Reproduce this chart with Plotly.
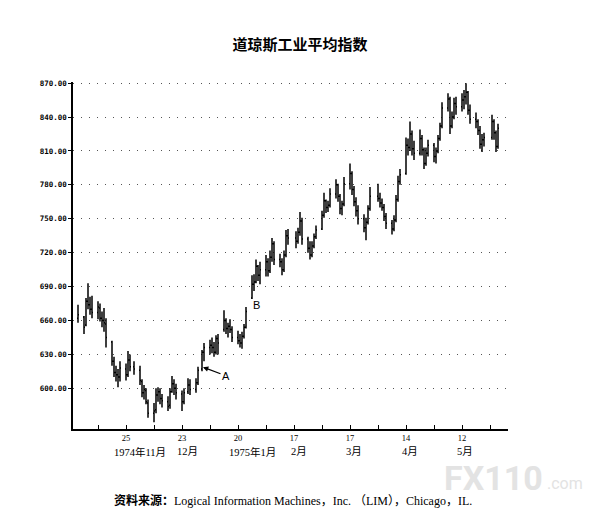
import plotly.graph_objects as go

# daily bars of the Dow Jones Industrial Average, Nov 1974 - May 1975
dates = [
    "1974-11-01", "1974-11-04", "1974-11-05", "1974-11-06", "1974-11-07", "1974-11-08",
    "1974-11-11", "1974-11-12", "1974-11-13", "1974-11-14", "1974-11-15",
    "1974-11-18", "1974-11-19", "1974-11-20", "1974-11-21", "1974-11-22",
    "1974-11-25", "1974-11-26", "1974-11-27", "1974-11-29",
    "1974-12-02", "1974-12-03", "1974-12-04", "1974-12-05", "1974-12-06",
    "1974-12-09", "1974-12-10", "1974-12-11", "1974-12-12", "1974-12-13",
    "1974-12-16", "1974-12-17", "1974-12-18", "1974-12-19", "1974-12-20",
    "1974-12-23", "1974-12-24", "1974-12-26", "1974-12-27",
    "1974-12-30", "1974-12-31", "1975-01-02", "1975-01-03",
    "1975-01-06", "1975-01-07", "1975-01-08", "1975-01-09", "1975-01-10",
    "1975-01-13", "1975-01-14", "1975-01-15", "1975-01-16", "1975-01-17",
    "1975-01-20", "1975-01-21", "1975-01-22", "1975-01-23", "1975-01-24",
    "1975-01-27", "1975-01-28", "1975-01-29", "1975-01-30", "1975-01-31",
    "1975-02-03", "1975-02-04", "1975-02-05", "1975-02-06", "1975-02-07",
    "1975-02-10", "1975-02-11", "1975-02-12", "1975-02-13", "1975-02-14",
    "1975-02-18", "1975-02-19", "1975-02-20", "1975-02-21",
    "1975-02-24", "1975-02-25", "1975-02-26", "1975-02-27", "1975-02-28",
    "1975-03-03", "1975-03-04", "1975-03-05", "1975-03-06", "1975-03-07",
    "1975-03-10", "1975-03-11", "1975-03-12", "1975-03-13", "1975-03-14",
    "1975-03-17", "1975-03-18", "1975-03-19", "1975-03-20", "1975-03-21",
    "1975-03-24", "1975-03-25", "1975-03-26", "1975-03-27",
    "1975-03-31", "1975-04-01", "1975-04-02", "1975-04-03", "1975-04-04",
    "1975-04-07", "1975-04-08", "1975-04-09", "1975-04-10", "1975-04-11",
    "1975-04-14", "1975-04-15", "1975-04-16", "1975-04-17", "1975-04-18",
    "1975-04-21", "1975-04-22", "1975-04-23", "1975-04-24", "1975-04-25",
    "1975-04-28", "1975-04-29", "1975-04-30", "1975-05-01", "1975-05-02",
    "1975-05-05", "1975-05-06", "1975-05-07", "1975-05-08", "1975-05-09",
    "1975-05-12", "1975-05-13", "1975-05-14", "1975-05-15", "1975-05-16",
    "1975-05-19", "1975-05-20", "1975-05-21", "1975-05-22", "1975-05-23",
    "1975-05-27", "1975-05-28", "1975-05-29", "1975-05-30",
]

opens = [
    662, 663, 656, 677, 674, 670,
    667, 671, 662, 660, 657,
    641, 624, 614, 612, 610,
    617, 612, 625, 619,
    616, 606, 596, 598, 587,
    578, 581, 594, 597, 591,
    588, 585, 597, 604, 600,
    595, 588, 597, 603,
    599, 605, 617, 632,
    636, 638, 636, 632, 644,
    652, 660, 653, 655, 652,
    645, 642, 640, 646, 654,
    680, 692, 694, 708, 700,
    705, 712, 704, 716, 728,
    714, 712, 705, 718, 735,
    733, 730, 738, 748,
    732, 724, 718, 726, 734,
    741, 753, 766, 760, 762,
    772, 780, 770, 759, 763,
    781, 790, 776, 765, 757,
    750, 742, 747, 759,
    770, 768, 764, 760, 752,
    746, 741, 749, 767, 783,
    790, 815, 813, 825, 812,
    808, 821, 811, 799, 808,
    815, 805, 810, 821, 832,
    848, 856, 832, 840, 852,
    849, 855, 858, 862, 846,
    838, 836, 828, 816, 820,
    822, 836, 826, 814,
]

highs = [
    674, 664, 680, 693, 681, 682,
    677, 675, 668, 671, 662,
    642, 628, 620, 617, 624,
    622, 633, 630, 624,
    620, 608, 603, 600, 590,
    587, 600, 601, 600, 595,
    593, 600, 611, 608, 604,
    598, 600, 609, 608,
    609, 619, 634, 640,
    643, 645, 641, 647, 648,
    669, 662, 658, 661, 655,
    651, 648, 650, 657, 672,
    700, 701, 714, 709, 712,
    718, 715, 722, 733, 730,
    719, 715, 722, 740, 741,
    739, 742, 756, 751,
    734, 730, 730, 737, 744,
    757, 773, 767, 766, 777,
    785, 781, 772, 766, 787,
    799, 792, 779, 769, 762,
    754, 751, 762, 778,
    781, 773, 768, 763, 755,
    749, 753, 771, 788, 794,
    822, 821, 836, 828, 819,
    829, 824, 813, 813, 820,
    817, 813, 824, 835, 853,
    861, 858, 845, 857, 858,
    861, 864, 870, 863, 851,
    844, 838, 832, 825, 826,
    842, 838, 828, 834,
]

lows = [
    658, 648, 655, 670, 665, 662,
    661, 659, 654, 650, 636,
    620, 610, 606, 601, 606,
    607, 610, 615, 612,
    603, 592, 590, 586, 574,
    570, 578, 588, 586, 583,
    580, 582, 596, 594, 590,
    580, 586, 595, 594,
    596, 603, 615, 624,
    630, 631, 628, 630, 630,
    650, 648, 645, 649, 641,
    639, 636, 635, 644, 653,
    679, 686, 693, 695, 692,
    699, 699, 702, 712, 709,
    707, 700, 703, 716, 727,
    724, 728, 735, 727,
    720, 714, 716, 724, 732,
    740, 751, 755, 756, 760,
    768, 765, 754, 753, 761,
    776, 771, 761, 752, 745,
    738, 731, 745, 757,
    765, 760, 757, 748, 741,
    736, 739, 747, 765, 780,
    789, 806, 810, 806, 802,
    806, 806, 794, 797, 805,
    800, 799, 808, 819, 830,
    845, 825, 830, 838, 842,
    845, 847, 851, 842, 834,
    830, 824, 812, 809, 814,
    820, 820, 809, 812,
]

closes = [
    665, 654, 677, 674, 670, 667,
    672, 662, 660, 658, 645,
    624, 614, 612, 610, 618,
    612, 625, 619, 617,
    607, 596, 599, 588, 578,
    580, 594, 597, 591, 589,
    584, 597, 604, 600, 596,
    588, 596, 603, 599,
    605, 616, 632, 636,
    638, 636, 632, 644, 640,
    660, 653, 655, 652, 645,
    642, 640, 646, 654, 668,
    692, 694, 708, 700, 705,
    712, 704, 716, 728, 714,
    712, 705, 718, 735, 733,
    730, 738, 748, 732,
    724, 718, 726, 734, 740,
    753, 766, 760, 762, 772,
    780, 770, 759, 763, 781,
    790, 776, 765, 757, 750,
    742, 747, 759, 770,
    768, 764, 760, 752, 746,
    741, 749, 767, 783, 789,
    815, 813, 825, 812, 808,
    821, 811, 799, 808, 815,
    805, 810, 821, 832, 848,
    856, 832, 840, 852, 849,
    855, 858, 862, 846, 838,
    836, 828, 816, 820, 822,
    836, 826, 814, 830,
]

# axis ticks
y_tick_vals = [600, 630, 660, 690, 720, 750, 780, 810, 840, 870]
y_tick_labels = ["600.00", "630.00", "660.00", "690.00", "720.00",
                 "750.00", "780.00", "810.00", "840.00", "870.00"]

x_tick_dates = ["1974-11-11", "1974-11-25", "1974-12-09", "1974-12-23", "1975-01-06",
                "1975-01-20", "1975-02-03", "1975-02-17", "1975-03-03", "1975-03-17",
                "1975-03-31", "1975-04-14", "1975-04-28", "1975-05-12", "1975-05-26"]
x_tick_labels = ["", "25", "", "23", "", "20", "", "17", "", "17", "", "14", "", "12", ""]

month_dates = ["1974-12-02", "1974-12-25 12:00", "1975-01-27", "1975-02-19 12:00",
               "1975-03-19", "1975-04-16", "1975-05-13 12:00"]
month_labels = ["1974年11月", "12月", "1975年1月", "2月", "3月", "4月", "5月"]

fig = go.Figure()

fig.add_trace(go.Ohlc(
    x=dates, open=opens, high=highs, low=lows, close=closes,
    increasing=dict(line=dict(color="black", width=1.5)),
    decreasing=dict(line=dict(color="black", width=1.5)),
    tickwidth=0.5,
    hoverinfo="skip",
    showlegend=False,
))

serif = "Liberation Serif, Noto Sans CJK SC, serif"

# month row under the day numbers
for d, lab in zip(month_dates, month_labels):
    fig.add_annotation(x=d, y=-0.066, xref="x", yref="paper", text=lab,
                       showarrow=False, yanchor="middle",
                       font=dict(family=serif, size=10.5, color="black"))

# marks A and B
fig.add_annotation(x="1975-01-02", y=619, text="A", showarrow=True,
                   ax=24, ay=9, arrowhead=2, arrowsize=0.9, arrowwidth=1.2,
                   arrowcolor="black", standoff=1,
                   font=dict(family="Liberation Sans, Arial", size=11, color="black"))
fig.add_annotation(x="1975-01-29", y=674, text="B", showarrow=False,
                   font=dict(family="Liberation Sans, Arial", size=11, color="black"))

# source line
fig.add_annotation(x=0.09, y=-0.205, xref="paper", yref="paper", xanchor="left",
                   yanchor="middle", showarrow=False,
                   text="<b>资料来源：</b>Logical Information Machines，Inc. （LIM），Chicago，IL.",
                   font=dict(family=serif, size=12, color="black"))

# faint site mark at the bottom right
fig.add_annotation(x=1.085, y=-0.141, xref="paper", yref="paper", xanchor="right",
                   yanchor="middle", showarrow=False,
                   text="<b>FX110</b>",
                   font=dict(family="Roboto, Arial", size=34, color="#e3e3e3"))
fig.add_annotation(x=1.085, y=-0.158, xref="paper", yref="paper", xanchor="left",
                   yanchor="middle", showarrow=False, text=".com",
                   font=dict(family="Roboto, Arial", size=16, color="#e3e3e3"))

# the page body adds 8px on the left and top, so the figure is 8px smaller
fig.update_layout(
    width=598, height=514,
    margin=dict(l=65, r=98, t=74, b=93),
    paper_bgcolor="white", plot_bgcolor="white",
    title=dict(text="<b>道琼斯工业平均指数</b>", x=292 / 598, xref="container",
               y=1 - 37 / 514, yanchor="middle", xanchor="center",
               font=dict(family="Noto Sans CJK SC", size=15, color="black")),
    xaxis=dict(
        type="date",
        range=["1974-10-29 12:00", "1975-06-04"],
        rangeslider=dict(visible=False),
        showline=True, linecolor="black", linewidth=1.5,
        showgrid=False, zeroline=False,
        tickmode="array", tickvals=x_tick_dates, ticktext=x_tick_labels,
        ticks="inside", ticklen=4, tickwidth=1.2, tickcolor="black",
        tickfont=dict(family=serif, size=8.5, color="black"),
    ),
    yaxis=dict(
        range=[564, 871],
        showline=True, linecolor="black", linewidth=1.5,
        zeroline=False,
        tickmode="array", tickvals=y_tick_vals,
        ticktext=["<b>" + t + "</b>" for t in y_tick_labels],
        ticks="outside", ticklen=3, tickwidth=1.2, tickcolor="black",
        tickfont=dict(family="DejaVu Sans Mono, monospace", size=7.5, color="black"),
        showgrid=True, gridcolor="#555555", gridwidth=1, griddash="1px,7px",
    ),
)

fig.write_html("out.html")
